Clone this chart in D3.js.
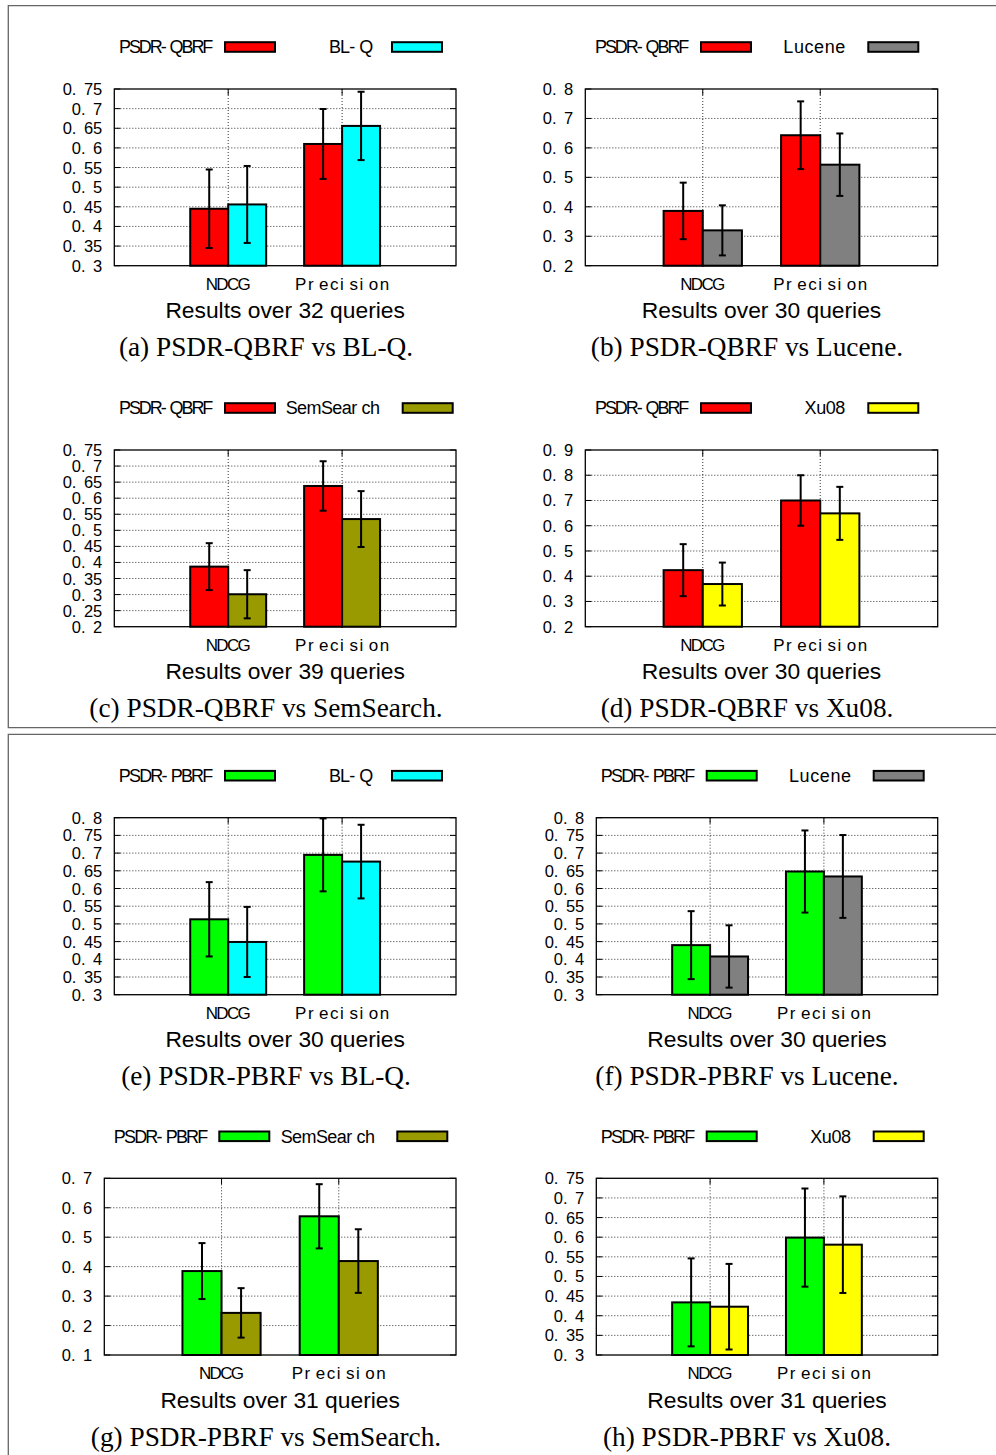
<!DOCTYPE html>
<html>
<head>
<meta charset="utf-8">
<script src="https://cdn.jsdelivr.net/npm/d3@7"></script>
<style>
  body { margin: 0; background: #fff; }
  svg { display: block; }
</style>
</head>
<body>
<script>
// ---------------- DATA ----------------
const categories = ["NDCG", "Precision"];
const panelIds = ["a", "b", "c", "d", "e", "f", "g", "h"];
const methods = ["PSDR-QBRF", "PSDR-QBRF", "PSDR-QBRF", "PSDR-QBRF",
                 "PSDR-PBRF", "PSDR-PBRF", "PSDR-PBRF", "PSDR-PBRF"];
const baselines = ["BL-Q", "Lucene", "SemSearch", "Xu08",
                   "BL-Q", "Lucene", "SemSearch", "Xu08"];
const queryCounts = [32, 30, 39, 30, 30, 30, 31, 31];

const methodMeans = [
  [0.445, 0.610], [0.386, 0.643], [0.387, 0.638], [0.424, 0.700],
  [0.513, 0.695], [0.440, 0.648], [0.385, 0.571], [0.434, 0.599]
];
const methodErrors = [
  [0.100, 0.089], [0.096, 0.115], [0.073, 0.077], [0.103, 0.100],
  [0.105, 0.103], [0.096, 0.116], [0.095, 0.109], [0.112, 0.125]
];
const baselineMeans = [
  [0.456, 0.656], [0.320, 0.543], [0.301, 0.535], [0.369, 0.649],
  [0.449, 0.676], [0.408, 0.634], [0.243, 0.419], [0.423, 0.581]
];
const baselineErrors = [
  [0.098, 0.087], [0.085, 0.106], [0.075, 0.087], [0.085, 0.105],
  [0.099, 0.104], [0.088, 0.117], [0.084, 0.108], [0.109, 0.123]
];
const yTickLabels = [
  ["0.3", "0.35", "0.4", "0.45", "0.5", "0.55", "0.6", "0.65", "0.7", "0.75"],
  ["0.2", "0.3", "0.4", "0.5", "0.6", "0.7", "0.8"],
  ["0.2", "0.25", "0.3", "0.35", "0.4", "0.45", "0.5", "0.55", "0.6", "0.65", "0.7", "0.75"],
  ["0.2", "0.3", "0.4", "0.5", "0.6", "0.7", "0.8", "0.9"],
  ["0.3", "0.35", "0.4", "0.45", "0.5", "0.55", "0.6", "0.65", "0.7", "0.75", "0.8"],
  ["0.3", "0.35", "0.4", "0.45", "0.5", "0.55", "0.6", "0.65", "0.7", "0.75", "0.8"],
  ["0.1", "0.2", "0.3", "0.4", "0.5", "0.6", "0.7"],
  ["0.3", "0.35", "0.4", "0.45", "0.5", "0.55", "0.6", "0.65", "0.7", "0.75"]
];

// ---------------- STYLE / LAYOUT ----------------
const colors = {
  "PSDR-QBRF": "#ff0000", "PSDR-PBRF": "#00ff00",
  "BL-Q": "#00ffff", "Lucene": "#808080", "SemSearch": "#999900", "Xu08": "#ffff00"
};
const textWidths = {
  "PSDR-QBRF": 94.3, "PSDR-PBRF": 94.5, "BL-Q": 44.3, "Lucene": 62,
  "SemSearch": 94.3, "Xu08": 40.7, "NDCG": 45, "Precision": 94
};
// plot box and key positions (text right edge, swatch left) for each panel
const layout = [
  { l: 114.3, r: 456,   t: 89,    b: 265.7, k: [213.3, 225, 373.3, 392] },
  { l: 585.3, r: 937.7, t: 89,    b: 265.7, k: [689.3, 701, 845.3, 868.3] },
  { l: 114.3, r: 456,   t: 450,   b: 626.7, k: [213.3, 225, 380, 402.7] },
  { l: 585.3, r: 937.7, t: 450,   b: 626.7, k: [689.3, 701, 845.3, 868.3] },
  { l: 114.3, r: 456,   t: 817.7, b: 994.7, k: [213.3, 225, 373.3, 392] },
  { l: 596.3, r: 937.7, t: 817.7, b: 994.7, k: [695.3, 706.7, 851, 873.7] },
  { l: 104.3, r: 456,   t: 1178.3, b: 1355, k: [208.3, 219.3, 375, 397.3] },
  { l: 596.3, r: 937.7, t: 1178.3, b: 1355, k: [695.3, 706.7, 851, 873.7] }
];
const captionCenters = [266, 747];
const SANS = "'Liberation Sans', Arial, Helvetica, sans-serif";
const SERIF = "'Liberation Serif', 'Times New Roman', serif";

// gnuplot-style term text: small extra gap after narrow glyphs r, i, '-' and '.'
function termText(sel, str, gap) {
  const runs = str.match(/[^ri\-.]*[ri\-.]?/g).filter(s => s.length);
  runs.forEach((r, k) => {
    const ts = sel.append("tspan").text(r);
    if (k > 0) ts.attr("dx", gap);
  });
  return sel;
}

const svg = d3.select("body").append("svg")
  .attr("width", 996).attr("height", 1455);
svg.append("rect").attr("width", 996).attr("height", 1455).attr("fill", "#fff");

// figure frames
svg.append("path").attr("d", "M996,5.7H8.3V727.7H996")
  .attr("fill", "none").attr("stroke", "#666").attr("stroke-width", 1.3);
svg.append("path").attr("d", "M996,734.4H8.3V1455")
  .attr("fill", "none").attr("stroke", "#666").attr("stroke-width", 1.3);

panelIds.forEach((id, i) => {
  const L = layout[i];
  const tickVals = yTickLabels[i].map(Number);
  const y = d3.scaleLinear()
    .domain([tickVals[0], tickVals[tickVals.length - 1]])
    .range([L.b, L.t]);
  const x = d3.scaleLinear().domain([-1, categories.length]).range([L.l, L.r]);
  const g = svg.append("g");
  const base = y.domain()[0];

  // grid
  g.selectAll("line.hg").data(tickVals.slice(1, -1)).join("line")
    .attr("class", "hg")
    .attr("x1", L.l).attr("x2", L.r)
    .attr("y1", d => y(d)).attr("y2", d => y(d))
    .attr("stroke", "#333").attr("stroke-width", 1).attr("stroke-dasharray", "1,2");
  g.selectAll("line.vg").data(categories).join("line")
    .attr("class", "vg")
    .attr("x1", (d, j) => x(j)).attr("x2", (d, j) => x(j))
    .attr("y1", L.t).attr("y2", L.b)
    .attr("stroke", "#333").attr("stroke-width", 1).attr("stroke-dasharray", "1,2");

  // ticks (inward, mirrored)
  const tk = g.append("g").attr("stroke", "#000").attr("stroke-width", 1);
  tickVals.forEach(v => {
    tk.append("line").attr("x1", L.l).attr("x2", L.l + 6).attr("y1", y(v)).attr("y2", y(v));
    tk.append("line").attr("x1", L.r - 6).attr("x2", L.r).attr("y1", y(v)).attr("y2", y(v));
  });
  categories.forEach((c, j) => {
    tk.append("line").attr("x1", x(j)).attr("x2", x(j)).attr("y1", L.b).attr("y2", L.b - 6);
    tk.append("line").attr("x1", x(j)).attr("x2", x(j)).attr("y1", L.t).attr("y2", L.t + 6);
  });

  // bars
  const w = 1 / 3;
  const series = [
    { name: methods[i], means: methodMeans[i], errs: methodErrors[i], off: -w },
    { name: baselines[i], means: baselineMeans[i], errs: baselineErrors[i], off: 0 }
  ];
  series.forEach(s => {
    const recs = categories.map((c, j) => ({ j, v: s.means[j], e: s.errs[j] }));
    g.selectAll(null).data(recs).join("rect")
      .attr("x", d => x(d.j + s.off))
      .attr("width", d => x(d.j + s.off + w) - x(d.j + s.off))
      .attr("y", d => y(d.v))
      .attr("height", d => y(base) - y(d.v))
      .attr("fill", colors[s.name])
      .attr("stroke", "#000").attr("stroke-width", 2);
    const eb = g.selectAll(null).data(recs).join("g")
      .attr("stroke", "#000").attr("stroke-width", 2);
    const cx = d => x(d.j + s.off + w / 2);
    eb.append("line")
      .attr("x1", cx).attr("x2", cx)
      .attr("y1", d => y(d.v - d.e)).attr("y2", d => y(d.v + d.e));
    eb.append("line")
      .attr("x1", d => cx(d) - 3.5).attr("x2", d => cx(d) + 3.5)
      .attr("y1", d => y(d.v - d.e)).attr("y2", d => y(d.v - d.e));
    eb.append("line")
      .attr("x1", d => cx(d) - 3.5).attr("x2", d => cx(d) + 3.5)
      .attr("y1", d => y(d.v + d.e)).attr("y2", d => y(d.v + d.e));
  });

  // plot border
  g.append("rect").attr("x", L.l).attr("y", L.t)
    .attr("width", L.r - L.l).attr("height", L.b - L.t)
    .attr("fill", "none").attr("stroke", "#000").attr("stroke-width", 1.3);

  // y tick labels
  yTickLabels[i].forEach(lbl => {
    const t = g.append("text")
      .attr("x", L.l - 12).attr("y", y(+lbl) + 6)
      .attr("text-anchor", "end")
      .attr("font-family", SANS).attr("font-size", 16.5).attr("fill", "#000");
    termText(t, lbl, 7.5);
  });

  // category labels
  categories.forEach((c, j) => {
    const t = g.append("text")
      .attr("x", x(j)).attr("y", L.b + 24)
      .attr("text-anchor", "middle")
      .attr("font-family", SANS).attr("font-size", 17)
      .attr("textLength", textWidths[c]).attr("lengthAdjust", "spacing");
    termText(t, c, 4);
  });

  // key
  const ky = L.t - 42;
  [[methods[i], L.k[0], L.k[1]], [baselines[i], L.k[2], L.k[3]]].forEach(([name, tx, sx]) => {
    const t = g.append("text")
      .attr("x", tx).attr("y", ky + 6.3)
      .attr("text-anchor", "end")
      .attr("font-family", SANS).attr("font-size", 18)
      .attr("textLength", textWidths[name]).attr("lengthAdjust", "spacing");
    termText(t, name, 5);
    g.append("rect")
      .attr("x", sx).attr("y", ky - 4.8)
      .attr("width", 50).attr("height", 9.6)
      .attr("fill", colors[name]).attr("stroke", "#000").attr("stroke-width", 2);
  });

  // x label
  g.append("text")
    .attr("x", (L.l + L.r) / 2).attr("y", L.b + 52.5)
    .attr("text-anchor", "middle")
    .attr("font-family", SANS).attr("font-size", 22.8)
    .text(`Results over ${queryCounts[i]} queries`);

  // caption
  g.append("text")
    .attr("x", captionCenters[i % 2]).attr("y", L.b + 90.5)
    .attr("text-anchor", "middle")
    .attr("font-family", SERIF).attr("font-size", 27.3)
    .text(`(${id}) ${methods[i]} vs ${baselines[i]}.`);
});
</script>
</body>
</html>
